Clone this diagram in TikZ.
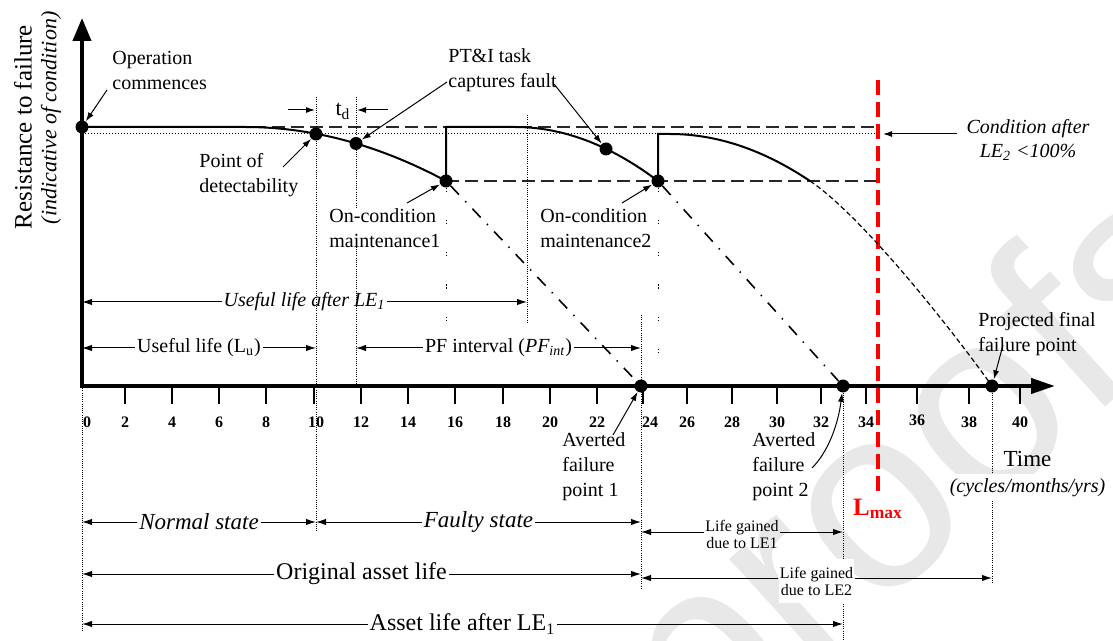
\documentclass[tikz,border=0pt]{standalone}
\usepackage{fontspec}
\setmainfont{Liberation Serif}
\newfontfamily\wmfont{Liberation Sans}
\usetikzlibrary{arrows.meta}
\pgfdeclarelayer{wm}
\pgfdeclarelayer{bg}
\pgfsetlayers{wm,bg,main}
\newcommand{\fsz}[2]{\fontsize{#1}{#2}\selectfont}

\begin{document}
\begin{tikzpicture}[x=0.5pt,y=-0.5pt,
  axis/.style={line width=2pt, line join=miter},
  tickm/.style={line width=0.9pt},
  ticklbl/.style={font=\bfseries\fsz{8}{8}, inner sep=0pt, anchor=base},
  dot/.style={circle, fill=black, inner sep=0pt, minimum size=6.5pt},
  cond/.style={line width=1pt},
  finedash/.style={line width=0.6pt, dash pattern=on 2.5pt off 1.5pt},
  hdash/.style={line width=0.9pt, black!85, dash pattern=on 6.5pt off 3pt},
  hdot/.style={line width=0.5pt, dash pattern=on 0.5pt off 1pt},
  vdot/.style={line width=0.4pt, dash pattern=on 0.5pt off 0.6pt},
  sparse/.style={line width=0.5pt, dash pattern=on 0.6pt off 0.9pt on 0.6pt off 14pt},
  proj/.style={line width=0.8pt, dash pattern=on 6pt off 4.5pt on 0.7pt off 4.5pt},
  limit/.style={line width=1.7pt, red, dash pattern=on 7.5pt off 3.5pt},
  callout/.style={line width=0.5pt, -{Latex[length=4.5pt,width=3pt]}},
  dim/.style={line width=0.5pt, -{Latex[length=5pt,width=3.2pt]}},
  lbl/.style={inner sep=0pt, anchor=north west, align=left, font=\fsz{10}{12.5}},
  dimlbl/.style={inner xsep=0.8pt, inner ysep=0pt, font=\fsz{10}{12}},
]
\useasboundingbox (0,0) rectangle (1113,641);

% faint background stamp
\begin{pgfonlayer}{wm}
  \node[rotate=42, text=black!9, font=\wmfont\fsz{130}{130}, inner sep=0pt] (wmark) at (925,479) {proofs};
\end{pgfonlayer}

% axes
\coordinate (O) at (82,386);
\coordinate (ytop) at (82,18);
\coordinate (xend) at (1055,386);
\draw[axis, {Triangle[length=11.5pt,width=9pt]}-{Triangle[length=12pt,width=7.5pt]}] (ytop) |- (xend);

% ticks and tick labels
\node[ticklbl] (tl0) at (87,428) {0};
\foreach \t/\x/\lx/\ly in {2/125/125/428,4/172/172/428,6/219/219/428,8/266/266/428,
  10/314/316/428,12/361/361/428,14/408/408/428,16/455/455/428,18/503/503/428,
  20/550/550/428,22/597/597/428,24/643/650/428,26/687/687/428,28/732/732/428,
  30/777/777/428,32/821/821/428,34/866/866/428,36/917/917/425,38/969/969/428,
  40/1020/1020/428}{
  \draw[tickm] (\x,386) -- (\x,404);
  \node[ticklbl] (tl\t) at (\lx,\ly) {\t};
}

% axis titles
\node[rotate=90, inner sep=0pt, font=\fsz{12.5}{12.5}] (ytitle) at (23,127) {Resistance to failure};
\node[rotate=90, inner sep=0pt, font=\itshape\fsz{11}{11}] (ysub) at (51,118) {(indicative of condition)};
\node[anchor=north, inner sep=0pt, font=\fsz{11.5}{11.5}] (xtitle) at (1027.5,451) {Time};
\node[anchor=north, inner xsep=0pt, inner ysep=2pt, fill=white, font=\itshape\fsz{10}{10}] (xsub) at (1027.5,474) {(cycles/months/yrs)};

% event points
\node[dot] (op) at (82,127) {};
\node[dot] (pod) at (316,134) {};
\node[dot] (pti1) at (356,143.5) {};
\node[dot] (ocm1) at (446,181) {};
\node[dot] (pti2) at (606,149) {};
\node[dot] (ocm2) at (658,181) {};
\node[dot] (af1) at (641,386) {};
\node[dot] (af2) at (843,386) {};
\node[dot] (pff) at (992,386) {};

% limit line
\coordinate (lt) at (878,80);
\coordinate (lb) at (878,492);
\coordinate (r127) at (878,127);
\coordinate (r134) at (878,134);
\coordinate (r181) at (878,181);
\coordinate (d134) at (82,134);
\draw[limit] (lt) -- (lb);
\node[anchor=base, inner sep=0pt, text=red, font=\bfseries\fsz{12.5}{12.5}] (lmax) at (878,515) {L\textsubscript{max}};

% reference levels
\begin{pgfonlayer}{bg}
  \draw[hdash] (op.center) -- (r127);
  \draw[hdot] (d134) -- (r134);
  \draw[hdash] (ocm1.center) -- (r181);
\end{pgfonlayer}

% condition curve with two restorations
\coordinate (knee) at (810,181);
\draw[cond] (op.center) -- (245,127) .. controls (312,127) and (379,145) .. (ocm1.center)
  -- (446,127) -- (515,127) .. controls (562.7,127) and (610.3,145) .. (ocm2.center)
  -- (658,134) -- (670,134) .. controls (716.7,134) and (763.3,149.7) .. (knee);
\draw[finedash] (knee) .. controls (860,214.5) and (947,323) .. (pff.center);

% projected failure without maintenance
\draw[proj] (ocm1) -- (af1);
\draw[proj] (ocm2) -- (af2);

% guide lines
\coordinate (v0b) at (82,632);
\coordinate (v10a) at (316,97);   \coordinate (v10b) at (316,532);
\coordinate (v12a) at (356,97);   \coordinate (v12b) at (356,386);
\coordinate (v20a) at (527,115);  \coordinate (v20b) at (527,322);
\coordinate (v24a) at (641,315);  \coordinate (v24b) at (641,588);
\coordinate (v33b) at (843,641);
\coordinate (vfb) at (992,583);
\coordinate (s1b) at (446,335);
\coordinate (s2b) at (658,360);
\begin{pgfonlayer}{bg}
  \draw[vdot] (O) -- (v0b);
  \draw[vdot] (v10a) -- (v10b);
  \draw[vdot] (v12a) -- (v12b);
  \draw[vdot] (v20a) -- (v20b);
  \draw[vdot] (v24a) -- (v24b);
  \draw[vdot] (af2) -- (v33b);
  \draw[vdot] (pff) -- (vfb);
  \draw[sparse] (ocm1) -- (s1b);
  \draw[sparse] (ocm2) -- (s2b);
\end{pgfonlayer}

% detection delay
\node[anchor=base, inner sep=0pt, font=\fsz{11}{11}] (td) at (343,116) {t\textsubscript{d}};
\coordinate (tdLt) at (288,110); \coordinate (tdLh) at (315,110);
\coordinate (tdRt) at (388,110); \coordinate (tdRh) at (357,110);
\draw[callout] (tdLt) -- (tdLh);
\draw[callout] (tdRt) -- (tdRh);

% annotations
\node[lbl] (opl) at (112,51) {Operation\\commences};
\node[lbl] (podl) at (199,153) {Point of\\detectability};
\node[lbl] (ptil) at (448,48) {PT\&I task\\captures fault};
\node[lbl, fill=white] (ocml1) at (329,208) {On-condition\\maintenance1};
\node[lbl] (ocml2) at (540,208) {On-condition\\maintenance2};
\node[lbl] (afl1) at (562,432) {Averted\\failure\\point 1};
\node[lbl] (afl2) at (752,432) {Averted\\failure\\point 2};
\node[lbl] (pffl) at (978,312) {Projected final\\failure point};
\node[anchor=north, inner sep=0pt, align=center, font=\itshape\fsz{10}{12}] (condl) at (1028,119) {Condition after\\LE\textsubscript{2} <100\%};

\coordinate (opT) at (107,90);
\coordinate (podT) at (283,167);
\coordinate (ptiT1) at (447,82);
\coordinate (ptiT2) at (554,84);
\coordinate (ocmT1) at (407,203);
\coordinate (ocmT2) at (622,203);
\coordinate (afT1) at (613,435);
\coordinate (afT2) at (812,468);
\coordinate (pffT) at (1003,345);
\coordinate (condT) at (957,134);
\coordinate (condH) at (883,134);
\draw[callout] (opT) -- (op);
\draw[callout] (podT) -- (pod);
\draw[callout] (ptiT1) -- (pti1);
\draw[callout] (ptiT2) -- (pti2);
\draw[callout] (ocmT1) -- (ocm1);
\draw[callout] (ocmT2) -- (ocm2);
\draw[callout] (afT1) -- (af1);
\draw[callout] (afT2) .. controls (828,452) and (838,425) .. (af2);
\draw[callout] (pffT) -- (pff);
\draw[callout] (condT) -- (condH);

% intervals above the time axis
\coordinate (uA) at (82,302);  \coordinate (uB) at (527,302);
\node[dimlbl, font=\itshape\fsz{10}{12}] (ulle) at (304.5,302) {Useful life after LE\textsubscript{1}};
\draw[dim] (ulle) -- (uA);
\draw[dim] (ulle) -- (uB);

\coordinate (luA) at (82,348);  \coordinate (luB) at (316,348);
\node[dimlbl] (lu) at (199,348) {Useful life (L\textsubscript{u})};
\draw[dim] (lu) -- (luA);
\draw[dim] (lu) -- (luB);

\coordinate (pfA) at (356,348);  \coordinate (pfB) at (641,348);
\node[dimlbl] (pf) at (498.5,348) {PF interval (\textit{PF\textsubscript{int}})};
\draw[dim] (pf) -- (pfA);
\draw[dim] (pf) -- (pfB);

% intervals below the time axis
\coordinate (nA) at (82,522);  \coordinate (nB) at (316,522);  \coordinate (fB) at (641,522);
\node[dimlbl, font=\itshape\fsz{11.5}{12}] (norm) at (199,522) {Normal state};
\node[dimlbl, font=\itshape\fsz{11.5}{12}] (faul) at (478.5,522) {Faulty state};
\draw[dim] (norm) -- (nA);
\draw[dim] (norm) -- (nB);
\draw[dim] (faul) -- (nB);
\draw[dim] (faul) -- (fB);

\coordinate (g1L) at (641,532);  \coordinate (g1R) at (843,532);
\node[anchor=north, inner xsep=0.5pt, inner ysep=0pt, align=center, font=\fsz{8}{8.2}] (lg1) at (742,520) {Life gained\\due to LE1};
\draw[dim] (lg1.west |- g1L) -- (g1L);
\draw[dim] (lg1.east |- g1R) -- (g1R);

\coordinate (oA) at (82,574);  \coordinate (oB) at (641,574);
\node[dimlbl, font=\fsz{12}{12}] (orig) at (361.5,574) {Original asset life};
\draw[dim] (orig) -- (oA);
\draw[dim] (orig) -- (oB);

\coordinate (g2L) at (641,578);  \coordinate (g2R) at (992,578);
\node[anchor=north, inner xsep=0.5pt, inner ysep=4pt, fill=white, align=center, font=\fsz{8}{8.2}] (lg2) at (816.5,559) {Life gained\\due to LE2};
\draw[dim] (lg2.west |- g2L) -- (g2L);
\draw[dim] (lg2.east |- g2R) -- (g2R);

\coordinate (aA) at (82,624);  \coordinate (aB) at (843,624);
\node[dimlbl, font=\fsz{12}{12}] (after) at (462.5,624) {Asset life after LE\textsubscript{1}};
\draw[dim] (after) -- (aA);
\draw[dim] (after) -- (aB);

\end{tikzpicture}
\end{document}
